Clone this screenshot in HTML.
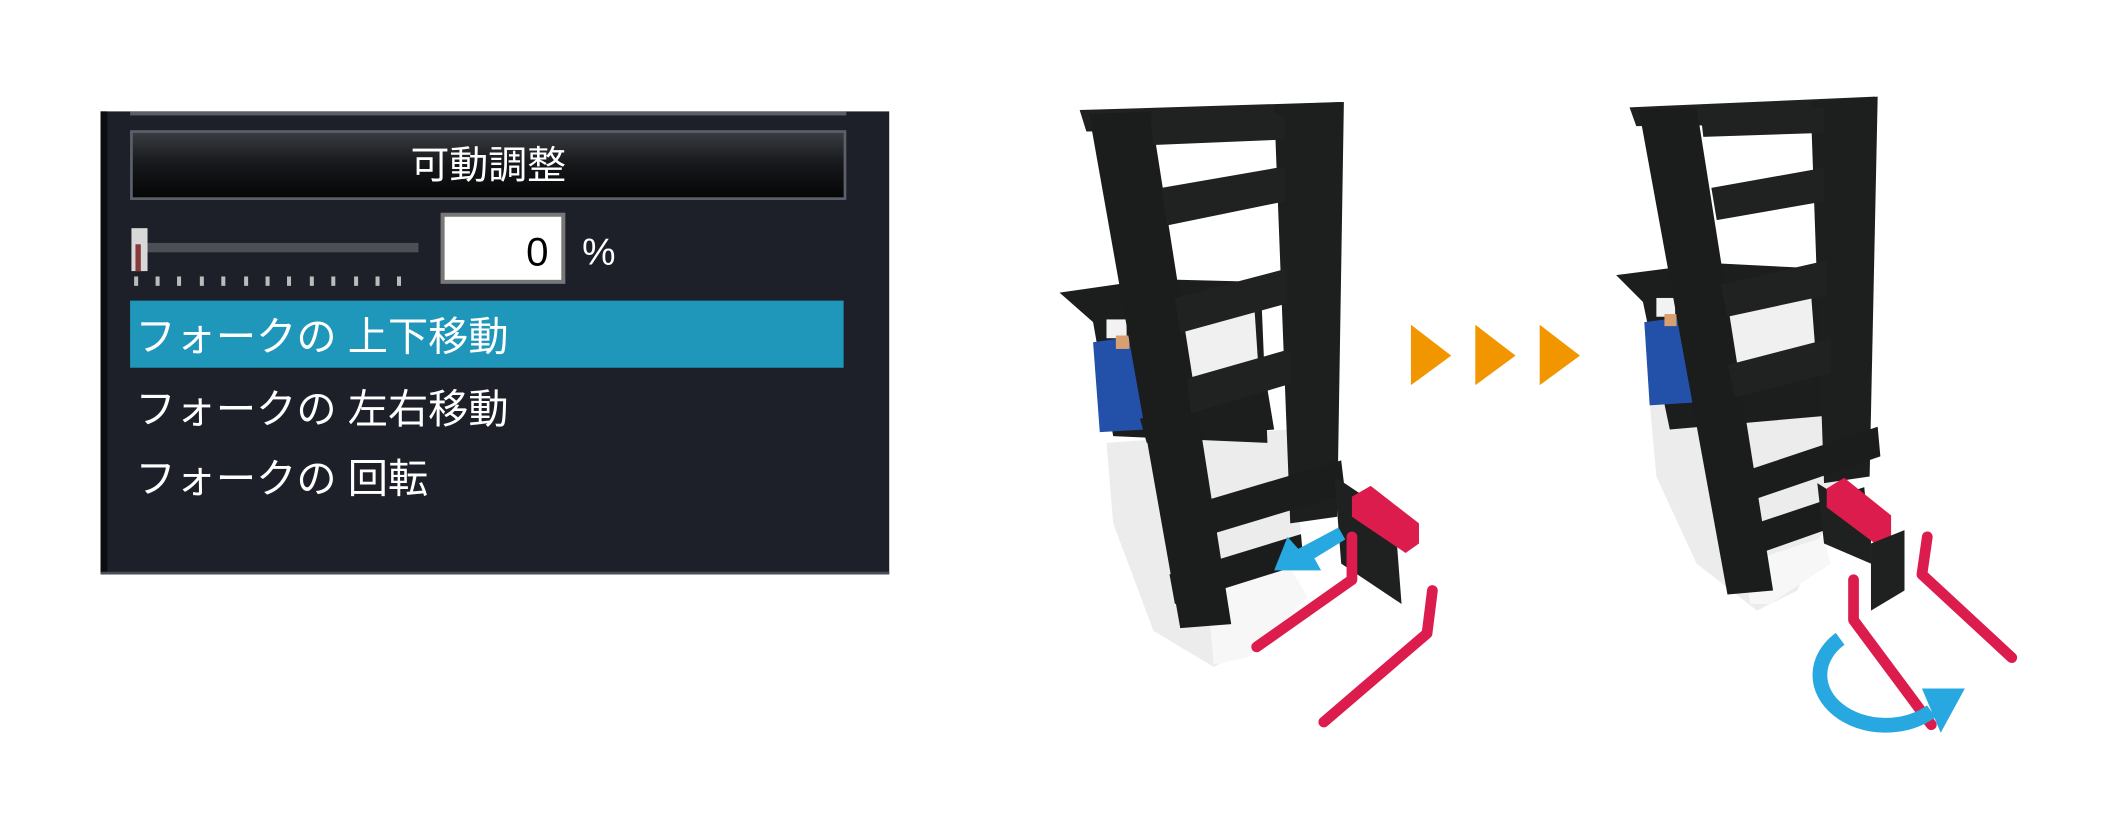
<!DOCTYPE html>
<html><head><meta charset="utf-8"><style>
html,body{margin:0;padding:0;background:#fff;width:2103px;height:816px;overflow:hidden}
svg{display:block}
text{font-family:"Liberation Sans","Noto Sans CJK JP",sans-serif}
</style></head><body>
<svg width="2103" height="816" viewBox="0 0 1568 608" preserveAspectRatio="none" xmlns="http://www.w3.org/2000/svg">
<defs>
<linearGradient id="btn" x1="0" y1="0" x2="0" y2="1"><stop offset="0" stop-color="#3a3d42"/><stop offset="0.5" stop-color="#15171a"/><stop offset="1" stop-color="#050505"/></linearGradient>
</defs>
<rect x="0" y="0" width="1568" height="608" fill="#fff"/>
<!-- panel -->
<rect x="75" y="83" width="588" height="345" fill="#1d2029"/>
<rect x="75" y="83" width="5" height="345" fill="#0c0d10"/>
<rect x="97" y="83" width="534" height="3" fill="#5a5e66"/>
<rect x="75" y="426" width="588" height="2" fill="#4a4e56"/>
<rect x="98" y="98" width="532" height="50" fill="url(#btn)" stroke="#5c6068" stroke-width="2"/>
<text x="364" y="133" font-size="29" fill="#fff" text-anchor="middle">可動調整</text>
<rect x="108" y="181" width="204" height="7" fill="#4c5056"/>
<rect x="98" y="170" width="12" height="32" fill="#d8d8d8"/>
<rect x="101" y="182" width="4" height="20" fill="#8a3a3a"/>
<g fill="#bbb"><rect x="100" y="206" width="3" height="7"/><rect x="116" y="206" width="3" height="7"/><rect x="132" y="206" width="3" height="7"/><rect x="149" y="206" width="3" height="7"/><rect x="165" y="206" width="3" height="7"/><rect x="182" y="206" width="3" height="7"/><rect x="198" y="206" width="3" height="7"/><rect x="214" y="206" width="3" height="7"/><rect x="231" y="206" width="3" height="7"/><rect x="247" y="206" width="3" height="7"/><rect x="264" y="206" width="3" height="7"/><rect x="280" y="206" width="3" height="7"/><rect x="296" y="206" width="3" height="7"/></g>
<rect x="330" y="160" width="90" height="50" fill="#fff" stroke="#777" stroke-width="3"/>
<text x="409" y="198" font-size="30" fill="#000" text-anchor="end">0</text>
<text x="434" y="197" font-size="28" fill="#fff">%</text>
<rect x="97" y="224" width="532" height="50" fill="#1f97bb"/>
<text x="101" y="261" font-size="30" fill="#fff">フォークの 上下移動</text>
<text x="101" y="315" font-size="30" fill="#fff">フォークの 左右移動</text>
<text x="101" y="367" font-size="30" fill="#fff">フォークの 回転</text>

<!-- orange arrows -->
<g fill="#f29600">
<polygon points="1052,242 1082,265 1052,287"/>
<polygon points="1100,242 1130,265 1100,287"/>
<polygon points="1148,242 1178,265 1148,287"/>
</g>

<!-- left forklift -->
<g>
<polygon points="825,330 960,320 970,395 935,480 905,497 860,470 830,390" fill="#ececec"/>
<polygon points="900,440 960,420 975,445 930,490 905,495" fill="#f7f7f7"/>
<polygon points="790,218 860,208 940,210 945,330 830,325 815,240" fill="#1c1d1d"/>
<polygon points="815,255 850,250 855,320 820,322" fill="#2350a8"/>
<rect x="825" y="238" width="15" height="14" fill="#f2f2f2"/>
<rect x="832" y="250" width="10" height="10" fill="#d8a070"/>
<polygon points="855,235 935,225 940,300 860,310" fill="#f0f0f0"/>
<polygon points="850,312 945,290 950,320 855,330" fill="#1c1d1d"/>
<!-- mast -->
<polygon points="805,82 1000,76 1000,96 810,98" fill="#202121"/>
<polygon points="812,85 858,83 918,465 880,468" fill="#1b1c1c"/>
<polygon points="950,78 1002,76 997,385 962,390" fill="#1d1e1e"/>
<polygon points="858,90 958,85 958,104 860,108" fill="#202121"/>
<polygon points="866,140 958,124 958,150 870,168" fill="#202121"/>
<polygon points="876,222 960,200 960,226 880,248" fill="#202121"/>
<polygon points="885,282 962,260 962,286 888,308" fill="#202121"/>
<polygon points="865,383 1000,343 1003,368 870,408" fill="#1b1c1c"/>
<polygon points="872,428 970,398 972,420 876,450" fill="#1b1c1c"/>
<polygon points="995,355 1040,385 1045,450 1000,420" fill="#1f2020"/>
<!-- red -->
<polygon points="1008,370 1022,362 1058,390 1058,405 1048,412 1008,385" fill="#dc1c4c"/>
<polyline points="1008,400 1008,432 937,482" fill="none" stroke="#dc1c4c" stroke-width="8" stroke-linecap="round" stroke-linejoin="round"/>
<polyline points="1068,440 1064,472 987,538" fill="none" stroke="#dc1c4c" stroke-width="8" stroke-linecap="round" stroke-linejoin="round"/>
<!-- blue arrow -->
<polygon points="998,393 1003,402 980,416 985,425 950,425 960,400 968,409" fill="#28a8e0"/>
</g>

<!-- right forklift -->
<g>
<polygon points="1230,300 1370,290 1375,360 1340,440 1310,455 1265,420 1235,355" fill="#ececec"/>
<polygon points="1300,420 1360,400 1365,420 1320,450 1305,450" fill="#f7f7f7"/>
<polygon points="1205,205 1275,196 1355,200 1360,310 1245,320 1225,225" fill="#1c1d1d"/>
<polygon points="1226,240 1258,236 1262,300 1230,302" fill="#2350a8"/>
<rect x="1235" y="222" width="14" height="14" fill="#f2f2f2"/>
<rect x="1241" y="234" width="9" height="9" fill="#d8a070"/>
<polygon points="1268,225 1350,215 1355,280 1272,290" fill="#f0f0f0"/>
<polygon points="1215,80 1398,72 1398,92 1220,94" fill="#202121"/>
<polygon points="1222,82 1265,80 1322,440 1288,443" fill="#1b1c1c"/>
<polygon points="1350,76 1400,72 1394,355 1360,360" fill="#1d1e1e"/>
<polygon points="1268,85 1360,80 1360,99 1270,102" fill="#202121"/>
<polygon points="1276,140 1360,125 1360,150 1280,164" fill="#202121"/>
<polygon points="1283,212 1362,194 1362,220 1288,236" fill="#202121"/>
<polygon points="1288,272 1365,252 1365,278 1294,296" fill="#202121"/>
<polygon points="1280,358 1400,318 1402,340 1285,380" fill="#1b1c1c"/>
<polygon points="1285,398 1390,363 1392,384 1290,420" fill="#1b1c1c"/>
<polygon points="1355,360 1395,385 1395,420 1360,405" fill="#1f2020"/>
<polygon points="1362,364 1375,356 1410,384 1410,400 1398,405 1362,378" fill="#dc1c4c"/>
<polygon points="1395,405 1420,395 1420,440 1395,455" fill="#1f2020"/>
<polyline points="1382,432 1382,462 1440,540" fill="none" stroke="#dc1c4c" stroke-width="8" stroke-linecap="round" stroke-linejoin="round"/>
<polyline points="1437,400 1433,428 1500,490" fill="none" stroke="#dc1c4c" stroke-width="8" stroke-linecap="round" stroke-linejoin="round"/>
<path d="M1372,476 A42,32 0 0 0 1440,530" fill="none" stroke="#28a8e0" stroke-width="11"/>
<polygon points="1433,513 1465,513 1447,546" fill="#28a8e0"/>
</g>
</svg>
</body></html>
